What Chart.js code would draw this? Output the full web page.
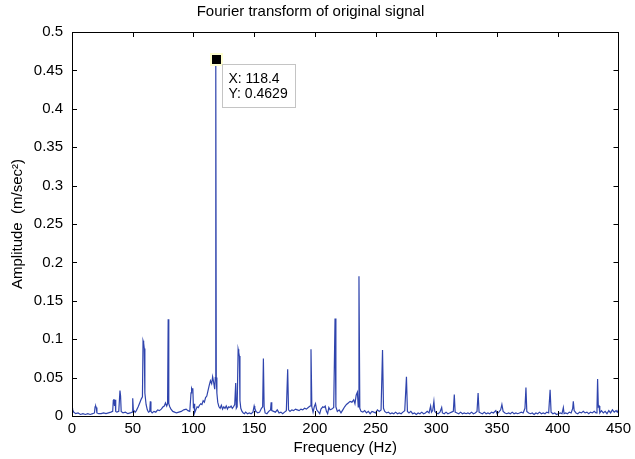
<!DOCTYPE html>
<html>
<head>
<meta charset="utf-8">
<script src="https://cdn.jsdelivr.net/npm/chart.js@4/dist/chart.umd.min.js"></script>
<style>
  html, body { margin: 0; padding: 0; background: #fff; }
  #wrap { width: 635px; height: 459px; }
</style>
</head>
<body>
<div id="wrap"><canvas id="fft-chart" width="635" height="459"></canvas></div>
<script>
// Spectrum values (frequency in Hz, amplitude in m/sec^2)
const freqs = [
  0, 0.5, 1.5, 3, 5, 7, 9, 11, 13, 15,
  17, 18.5, 19, 19.5, 20, 20.5, 22, 24, 26, 28,
  30, 32, 33.5, 34, 34.5, 35, 35.5, 36, 37, 38.5,
  39.5, 40, 40.5, 42, 44, 46, 48, 49.5, 50, 50.5,
  52, 53, 54.5, 56, 57, 58, 58.5, 59, 59.5, 60,
  61, 62, 63, 64, 64.5, 65, 66, 67.5, 69, 70.5,
  72, 73.5, 75, 76, 77, 78, 78.7, 79.2, 79.7, 80.5,
  81.5, 83, 84.5, 86, 88, 90, 92, 94, 95.5, 97,
  98, 98.5, 99, 99.5, 100, 100.5, 101, 102, 103, 104,
  105, 106, 107, 108, 109, 110, 111, 112, 113, 114,
  115, 115.8, 116.5, 117, 117.5, 118, 118.4, 118.8, 119.3, 120,
  121, 122, 123, 124, 125, 126, 127, 128, 129, 130,
  131, 132, 133, 134, 134.8, 135.3, 136, 136.8, 137.3, 137.8,
  138.3, 139, 140, 141, 142, 143, 144.5, 146, 147.5, 149,
  150, 150.5, 151.5, 153, 154.5, 156, 157, 157.6, 158.2, 159,
  160.5, 162, 163.5, 164, 164.5, 166, 167.5, 169, 170.5, 172,
  173.5, 175, 176.5, 177.6, 178.3, 179.5, 181, 182.5, 184, 185.5,
  187, 188.5, 190, 191.5, 193, 194.5, 196, 196.8, 197.5, 198.5,
  199.5, 200.5, 201.5, 203, 204, 205, 206.5, 207.5, 208.5, 209.5,
  210.5, 211.5, 212.5, 214, 215.5, 216.6, 217.3, 218.5, 220, 221.5,
  223, 224.5, 226, 227.5, 229, 230.5, 232, 233, 234, 235,
  235.7, 236.3, 237, 238, 239.5, 241, 242.5, 244, 245.5, 247,
  248.5, 250, 251.5, 253, 254.5, 255.7, 256.5, 257.5, 259, 260.5,
  262, 263.5, 265, 266.5, 268, 269.5, 271, 272.5, 274, 275.4,
  276.2, 277.5, 279, 280.5, 282, 283.5, 285, 286.5, 288, 289.5,
  291, 292.5, 294, 295.3, 296, 297, 298, 298.7, 300, 301.5,
  303, 304.4, 305, 306.5, 308, 309.5, 311, 312.5, 314, 314.8,
  315.5, 317, 318.5, 320, 321.5, 323, 324.5, 326, 327.5, 329,
  330.5, 332, 333.5, 334.4, 335.2, 336.5, 338, 339.5, 341, 342.5,
  344, 345.5, 347, 349, 350, 351.5, 353, 354, 355, 356.5,
  358, 359.5, 361, 362.5, 364, 365.5, 367, 368.5, 370, 371.5,
  373, 373.8, 374.5, 376, 377.5, 379, 380.5, 382, 383.5, 385,
  386.5, 388, 389.5, 391, 392.5, 393.7, 394.5, 396, 397.5, 399,
  400.5, 402, 403.5, 404.6, 405.2, 406.5, 408, 409.5, 411, 412.3,
  412.8, 413.5, 415, 416.5, 418, 419.5, 421, 422.5, 424, 425.5,
  427, 428.5, 430, 431.5, 432.3, 432.8, 433.4, 434, 434.6, 436,
  437.5, 439, 440.5, 442, 443.5, 445, 446.5, 448, 449, 450
];

const amps = [
  .010, .008, .005, .003, .004, .002, .003, .002, .003, .002,
  .003, .004, .012, .013, .011, .004, .003, .003, .004, .003,
  .004, .005, .006, .020, .022, .013, .021, .006, .005, .006,
  .033, .026, .006, .004, .005, .003, .004, .005, .023, .008,
  .005, .007, .012, .018, .022, .025, .098, .095, .088, .030,
  .015, .008, .005, .006, .019, .006, .004, .006, .005, .008,
  .007, .009, .012, .013, .017, .013, .016, .126, .016, .012,
  .009, .006, .005, .004, .005, .006, .008, .009, .007, .006,
  .030, .036, .034, .036, .010, .016, .004, .008, .012, .011,
  .014, .016, .015, .020, .018, .024, .026, .033, .040, .046,
  .042, .051, .045, .040, .035, .050, .4629, .050, .030, .018,
  .012, .010, .014, .009, .012, .010, .013, .009, .012, .011,
  .013, .010, .012, .015, .043, .010, .012, .087, .083, .078,
  .020, .010, .006, .004, .003, .005, .003, .004, .003, .005,
  .013, .010, .006, .004, .005, .010, .012, .075, .012, .004,
  .003, .006, .008, .018, .007, .006, .005, .008, .004, .005,
  .003, .005, .007, .061, .008, .006, .008, .007, .009, .008,
  .007, .009, .008, .010, .009, .011, .013, .087, .012, .005,
  .012, .016, .008, .005, .003, .009, .012, .011, .013, .006,
  .003, .011, .008, .009, .011, .127, .012, .006, .008, .004,
  .008, .012, .015, .017, .019, .018, .021, .016, .027, .031,
  .012, .182, .010, .006, .005, .007, .004, .006, .003, .006,
  .005, .004, .008, .006, .008, .086, .010, .006, .004, .005,
  .003, .004, .003, .005, .003, .004, .003, .005, .007, .051,
  .006, .004, .006, .003, .004, .002, .004, .003, .005, .003,
  .004, .006, .004, .013, .005, .007, .019, .006, .004, .003,
  .005, .011, .004, .003, .005, .003, .004, .005, .006, .028,
  .005, .004, .003, .005, .003, .004, .003, .004, .003, .005,
  .003, .004, .006, .030, .005, .004, .003, .005, .003, .004,
  .003, .005, .004, .007, .003, .005, .008, .015, .006, .004,
  .003, .004, .003, .005, .003, .004, .003, .004, .005, .004,
  .010, .037, .006, .004, .003, .004, .002, .004, .003, .005,
  .003, .004, .003, .005, .004, .034, .005, .003, .004, .002,
  .003, .004, .003, .011, .003, .004, .003, .005, .004, .010,
  .019, .007, .004, .003, .005, .004, .006, .004, .005, .003,
  .005, .004, .006, .004, .010, .048, .012, .013, .004, .007,
  .004, .006, .003, .007, .004, .008, .005, .007, .005, .008
];

const xTicks = [0, 50, 100, 150, 200, 250, 300, 350, 400, 450];
const yTicks = [0, 0.05, 0.1, 0.15, 0.2, 0.25, 0.3, 0.35, 0.4, 0.45, 0.5];
const yTickLabels = ['0', '0.05', '0.1', '0.15', '0.2', '0.25', '0.3', '0.35', '0.4', '0.45', '0.5'];

// Data tip on the main peak
const tipFreq = 118.4;
const tipAmp = 0.4629;

const fontFamily = '"Liberation Sans", Arial, sans-serif';
const lineColor = '#2f44ad';

// Box + inward ticks on all four sides, MATLAB style
const axesBox = {
  id: 'axesBox',
  afterDatasetsDraw(chart) {
    const { ctx, chartArea: a, scales } = chart;
    const len = 5;
    ctx.save();
    ctx.strokeStyle = '#000';
    ctx.lineWidth = 1;
    ctx.beginPath();
    xTicks.forEach(v => {
      const px = Math.round(scales.x.getPixelForValue(v)) + 0.5;
      ctx.moveTo(px, a.bottom); ctx.lineTo(px, a.bottom - len);
      ctx.moveTo(px, a.top); ctx.lineTo(px, a.top + len);
    });
    yTicks.forEach(v => {
      const py = Math.round(scales.y.getPixelForValue(v)) + 0.5;
      ctx.moveTo(a.left, py); ctx.lineTo(a.left + len, py);
      ctx.moveTo(a.right, py); ctx.lineTo(a.right - len, py);
    });
    ctx.stroke();
    ctx.strokeRect(Math.round(a.left) + 0.5, Math.round(a.top) + 0.5,
      Math.round(a.right - a.left), Math.round(a.bottom - a.top));
    ctx.restore();
  }
};

// Data cursor marker and label box
const dataTip = {
  id: 'dataTip',
  afterDraw(chart) {
    const { ctx, scales } = chart;
    const px = scales.x.getPixelForValue(tipFreq);
    const py = scales.y.getPixelForValue(tipAmp);
    ctx.save();
    // marker
    ctx.fillStyle = '#ffffd0';
    ctx.fillRect(Math.round(px) - 6, Math.round(py) - 7, 13, 13);
    ctx.fillStyle = '#000';
    ctx.fillRect(Math.round(px) - 4, Math.round(py) - 5, 9, 9);
    // label box
    const bx = Math.round(px) + 6.5, by = Math.round(py) + 4.5;
    const bw = 73, bh = 43;
    ctx.fillStyle = '#fff';
    ctx.fillRect(bx, by, bw, bh);
    ctx.strokeStyle = '#c4c4c4';
    ctx.lineWidth = 1;
    ctx.strokeRect(bx, by, bw, bh);
    ctx.fillStyle = '#000';
    ctx.font = '14px ' + fontFamily;
    ctx.textBaseline = 'middle';
    ctx.fillText('X: ' + tipFreq, bx + 6, by + 15);
    ctx.fillText('Y: ' + tipAmp, bx + 6, by + 30);
    ctx.restore();
  }
};

function initFftChart() {
  const ctx = document.getElementById('fft-chart');
  if (!ctx) return;

  const points = freqs.map((f, i) => ({ x: f, y: amps[i] }));

  new Chart(ctx, {
    type: 'line',
    data: {
      datasets: [{
        data: points,
        borderColor: lineColor,
        borderWidth: 1.2,
        pointRadius: 0,
        tension: 0,
        fill: false,
      }]
    },
    plugins: [axesBox, dataTip],
    options: {
      responsive: false,
      animation: false,
      events: [],
      layout: { padding: { left: 0, right: 14, top: 0, bottom: 0 } },
      plugins: {
        legend: { display: false },
        tooltip: { enabled: false },
        title: {
          display: true,
          text: 'Fourier transform of original signal',
          color: '#000',
          font: { family: fontFamily, size: 15, weight: 'normal' },
          padding: { top: 3, bottom: 11 },
        }
      },
      scales: {
        x: {
          type: 'linear',
          min: 0,
          max: 450,
          afterBuildTicks: s => { s.ticks = xTicks.map(v => ({ value: v })); },
          afterFit: s => { s.height = 43; },
          grid: { display: false, drawTicks: false },
          border: { display: false },
          ticks: {
            color: '#000',
            padding: 4,
            maxRotation: 0,
            font: { family: fontFamily, size: 15 },
          },
          title: {
            display: true,
            text: 'Frequency (Hz)',
            color: '#000',
            padding: { top: 0, bottom: 2 },
            font: { family: fontFamily, size: 15 },
          }
        },
        y: {
          type: 'linear',
          min: 0,
          max: 0.5,
          afterBuildTicks: s => { s.ticks = yTicks.map(v => ({ value: v })); },
          afterFit: s => { s.width = 72; },
          grid: { display: false, drawTicks: false },
          border: { display: false },
          ticks: {
            color: '#000',
            padding: 9,
            font: { family: fontFamily, size: 15 },
            callback: (v, i) => yTickLabels[i],
          },
          title: {
            display: true,
            text: 'Amplitude  (m/sec\u00B2)',
            color: '#000',
            padding: { top: 9, bottom: 0 },
            font: { family: fontFamily, size: 15 },
          }
        }
      }
    }
  });
}

initFftChart();
</script>
</body>
</html>
